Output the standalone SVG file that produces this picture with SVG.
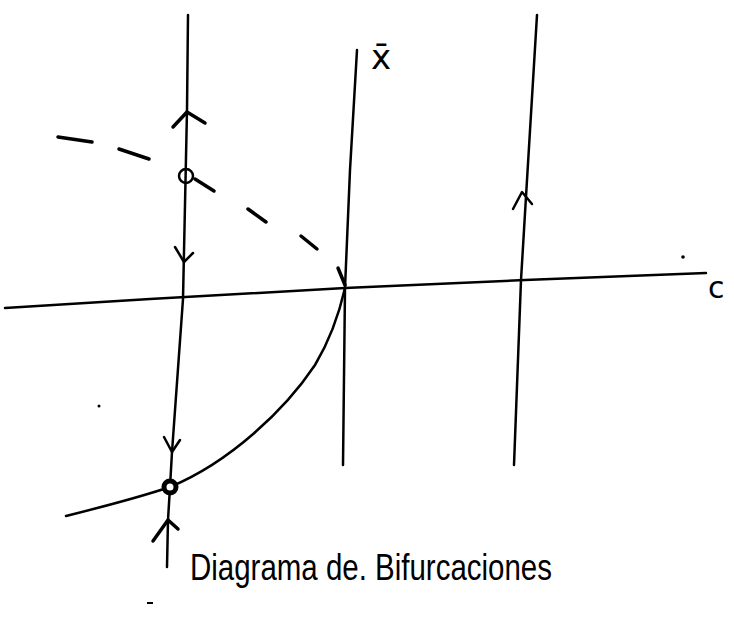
<svg xmlns="http://www.w3.org/2000/svg" width="734" height="618" viewBox="0 0 734 618">
<style>
.ln{fill:none;stroke:#000;stroke-width:2.5;stroke-linecap:round;stroke-linejoin:round}
.th{fill:none;stroke:#000;stroke-width:3.5;stroke-linecap:round;stroke-linejoin:round}
.lbl{font-family:"DejaVu Sans","Liberation Sans",sans-serif;fill:#000}
.cap{font-family:"Liberation Sans",Arial,sans-serif;fill:#000}
</style>
<rect width="734" height="618" fill="#fff"/>
<g id="connectors">
<path id="axis-c" class="ln" d="M5,308 L150,299 L345,288 L525,280 L706,273"/>
<path id="line-left" class="ln" d="M188,15 L187,110 L183,299 L172,452 L170,487 L168,520 L167,567"/>
<path id="line-mid" class="ln" d="M357,50 L350,170 L345,288 L343,465"/>
<path id="line-right" class="ln" d="M537,15 L527,180 L521,280 L514,465"/>
<path id="curve-stable" class="ln" d="M66,516 C110,505 140,497 170,487 C230,462 285,410 315,365 C330,340 340,310 345,288"/>
<g id="curve-unstable" class="th">
<path d="M58,137 L92,142"/>
<path d="M119,149 L149,159"/>
<path d="M195,179 L214,191"/>
<path d="M248,209 L266,222"/>
<path d="M301,236 L317,249"/>
<path d="M338,268 L345,285"/>
</g>
<g id="arrows" class="ln">
<path class="th" d="M173,127 L187,112 L205,123"/>
<path d="M175,247 L184,262 L193,253"/>
<path d="M164,437 L172,452 L180,440"/>
<path class="th" d="M153,541 L168,520 L178,529"/>
<path d="M513,209 L522,192 L532,204"/>
</g>
</g>
<g id="node-unstable"><circle cx="186" cy="176" r="7" class="ln"/></g>
<g id="node-stable"><circle cx="170" cy="487" r="6" fill="#fff" stroke="#000" stroke-width="5"/></g>
<g id="dots" fill="#000">
<circle cx="99" cy="406" r="1.5"/>
<circle cx="683" cy="257" r="1.8"/>
<rect x="147" y="602" width="6" height="2"/>
</g>
<g id="labels">
<text class="lbl" x="371" y="69" font-size="34">x̄</text>
<text class="lbl" x="708" y="298" font-size="30">c</text>
<text class="cap" x="190" y="580" font-size="36" textLength="362" lengthAdjust="spacingAndGlyphs">Diagrama de. Bifurcaciones</text>
</g>
</svg>
